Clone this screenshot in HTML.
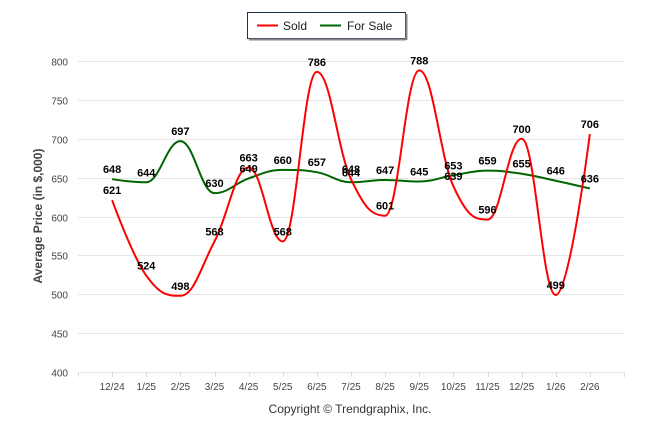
<!DOCTYPE html>
<html><head><meta charset="utf-8"><style>
body{margin:0;background:#fff;}
svg text{font-family:"Liberation Sans",sans-serif;}
</style></head><body>
<svg id="chart" width="646" height="434" viewBox="0 0 646 434">
  <g>
    <rect x="247.5" y="12.5" width="158" height="26" fill="#fff" stroke="#1f2d4f" stroke-width="1"/>
    <line x1="406.5" y1="14" x2="406.5" y2="40" stroke="#888" stroke-width="2"/>
    <line x1="249" y1="39.5" x2="406" y2="39.5" stroke="#888" stroke-width="2"/>
    <g>
      <line x1="257" y1="25.5" x2="278" y2="25.5" stroke="#ff0000" stroke-width="2"/>
      <text x="283" y="30" font-size="12" fill="#222">Sold</text>
    </g>
    <g>
      <line x1="320" y1="25.5" x2="341" y2="25.5" stroke="#006400" stroke-width="2"/>
      <text x="347" y="30" font-size="12" fill="#222">For Sale</text>
    </g>
  </g>
  <g id="grid"></g>
  <g id="yticks"></g>
  <g id="xticks"></g>
  <text transform="translate(42,216) rotate(-90)" text-anchor="middle" font-size="12" font-weight="bold" fill="#444">Average Price (in $,000)</text>
  <g id="series"></g>
  <g id="labels"></g>
  <text x="350" y="413" text-anchor="middle" font-size="12" fill="#333">Copyright © Trendgraphix, Inc.</text>
</svg>
<script>
const categories=["12/24","1/25","2/25","3/25","4/25","5/25","6/25","7/25","8/25","9/25","10/25","11/25","12/25","1/26","2/26"];
const soldValues=[621,524,498,568,663,568,786,648,601,788,639,596,700,499,706];
const forSaleValues=[648,644,697,630,649,660,657,644,647,645,653,659,655,646,636];
const yTicks=[400,450,500,550,600,650,700,750,800];

const NS="http://www.w3.org/2000/svg";
const plotLeft=78,plotRight=624,plotTop=61,plotBottom=372,yMin=400,yMax=800;
const slot=(plotRight-plotLeft)/(categories.length+1);
function xPos(i){return plotLeft+slot*(i+1);}
function yPos(v){return plotBottom-(v-yMin)/(yMax-yMin)*(plotBottom-plotTop);}
function mk(tag,attrs,parent){const e=document.createElementNS(NS,tag);for(const k in attrs)e.setAttribute(k,attrs[k]);parent.appendChild(e);return e;}

const grid=document.getElementById('grid'),yt=document.getElementById('yticks'),xt=document.getElementById('xticks');
yTicks.forEach(v=>{
  const y=Math.round(yPos(v))+0.5;
  const l=mk('line',{x1:plotLeft,x2:plotRight,y1:y,y2:y,stroke:'#e6e6e6','stroke-width':1},grid);
  
  
  const t=mk('text',{x:plotLeft-10,y:y+4,'text-anchor':'end','font-size':10,fill:'#444'},yt);
  t.textContent=v;
  
  
});
for(let i=0;i<=categories.length+1;i++){
  const x=Math.round(plotLeft+slot*i)+0.5;
  mk('line',{x1:x,x2:x,y1:plotBottom,y2:plotBottom+5,stroke:'#ddd'},grid);
}
categories.forEach((c,i)=>{
  const t=mk('text',{x:xPos(i),y:plotBottom+18,'text-anchor':'middle','font-size':10,fill:'#444'},xt);
  t.textContent=c;
  
  
});

function splinePath(vals){
  const pts=vals.map((v,i)=>[xPos(i),yPos(v)]);
  const s=1.5,d=2.5;
  const conts=pts.map((p,i)=>{
    if(i===0||i===pts.length-1)return null;
    const [lx,ly]=pts[i-1],[nx,ny]=pts[i+1],[px,py]=p;
    let lcx=(s*px+lx)/d,lcy=(s*py+ly)/d,rcx=(s*px+nx)/d,rcy=(s*py+ny)/d;
    const corr=((rcy-lcy)*(rcx-px))/(rcx-lcx)+py-rcy;
    lcy+=corr;rcy+=corr;
    if(lcy>Math.max(ly,py)){lcy=Math.max(ly,py);rcy=2*py-lcy;}
    else if(lcy<Math.min(ly,py)){lcy=Math.min(ly,py);rcy=2*py-lcy;}
    if(rcy>Math.max(py,ny)){rcy=Math.max(py,ny);lcy=2*py-rcy;}
    else if(rcy<Math.min(py,ny)){rcy=Math.min(py,ny);lcy=2*py-rcy;}
    return {l:[lcx,lcy],r:[rcx,rcy]};
  });
  let dstr='M'+pts[0][0]+' '+pts[0][1];
  for(let i=1;i<pts.length;i++){
    const c1=conts[i-1]?conts[i-1].r:pts[i-1];
    const c2=conts[i]?conts[i].l:pts[i];
    dstr+=' C'+c1[0]+' '+c1[1]+' '+c2[0]+' '+c2[1]+' '+pts[i][0]+' '+pts[i][1];
  }
  return dstr;
}
const series=document.getElementById('series'),labels=document.getElementById('labels');
const fs=mk('path',{d:splinePath(forSaleValues),fill:'none',stroke:'#006400','stroke-width':2},series);


const sd=mk('path',{d:splinePath(soldValues),fill:'none',stroke:'#ff0000','stroke-width':2},series);


[[forSaleValues,'for-sale'],[soldValues,'sold']].forEach(([vals,n])=>{
  vals.forEach((v,i)=>{
    const t=mk('text',{x:xPos(i),y:yPos(v)-6,'text-anchor':'middle','font-size':11,'font-weight':'bold',fill:'#000'},labels);
    t.textContent=v;
    
    
  });
});
</script>
</body></html>
